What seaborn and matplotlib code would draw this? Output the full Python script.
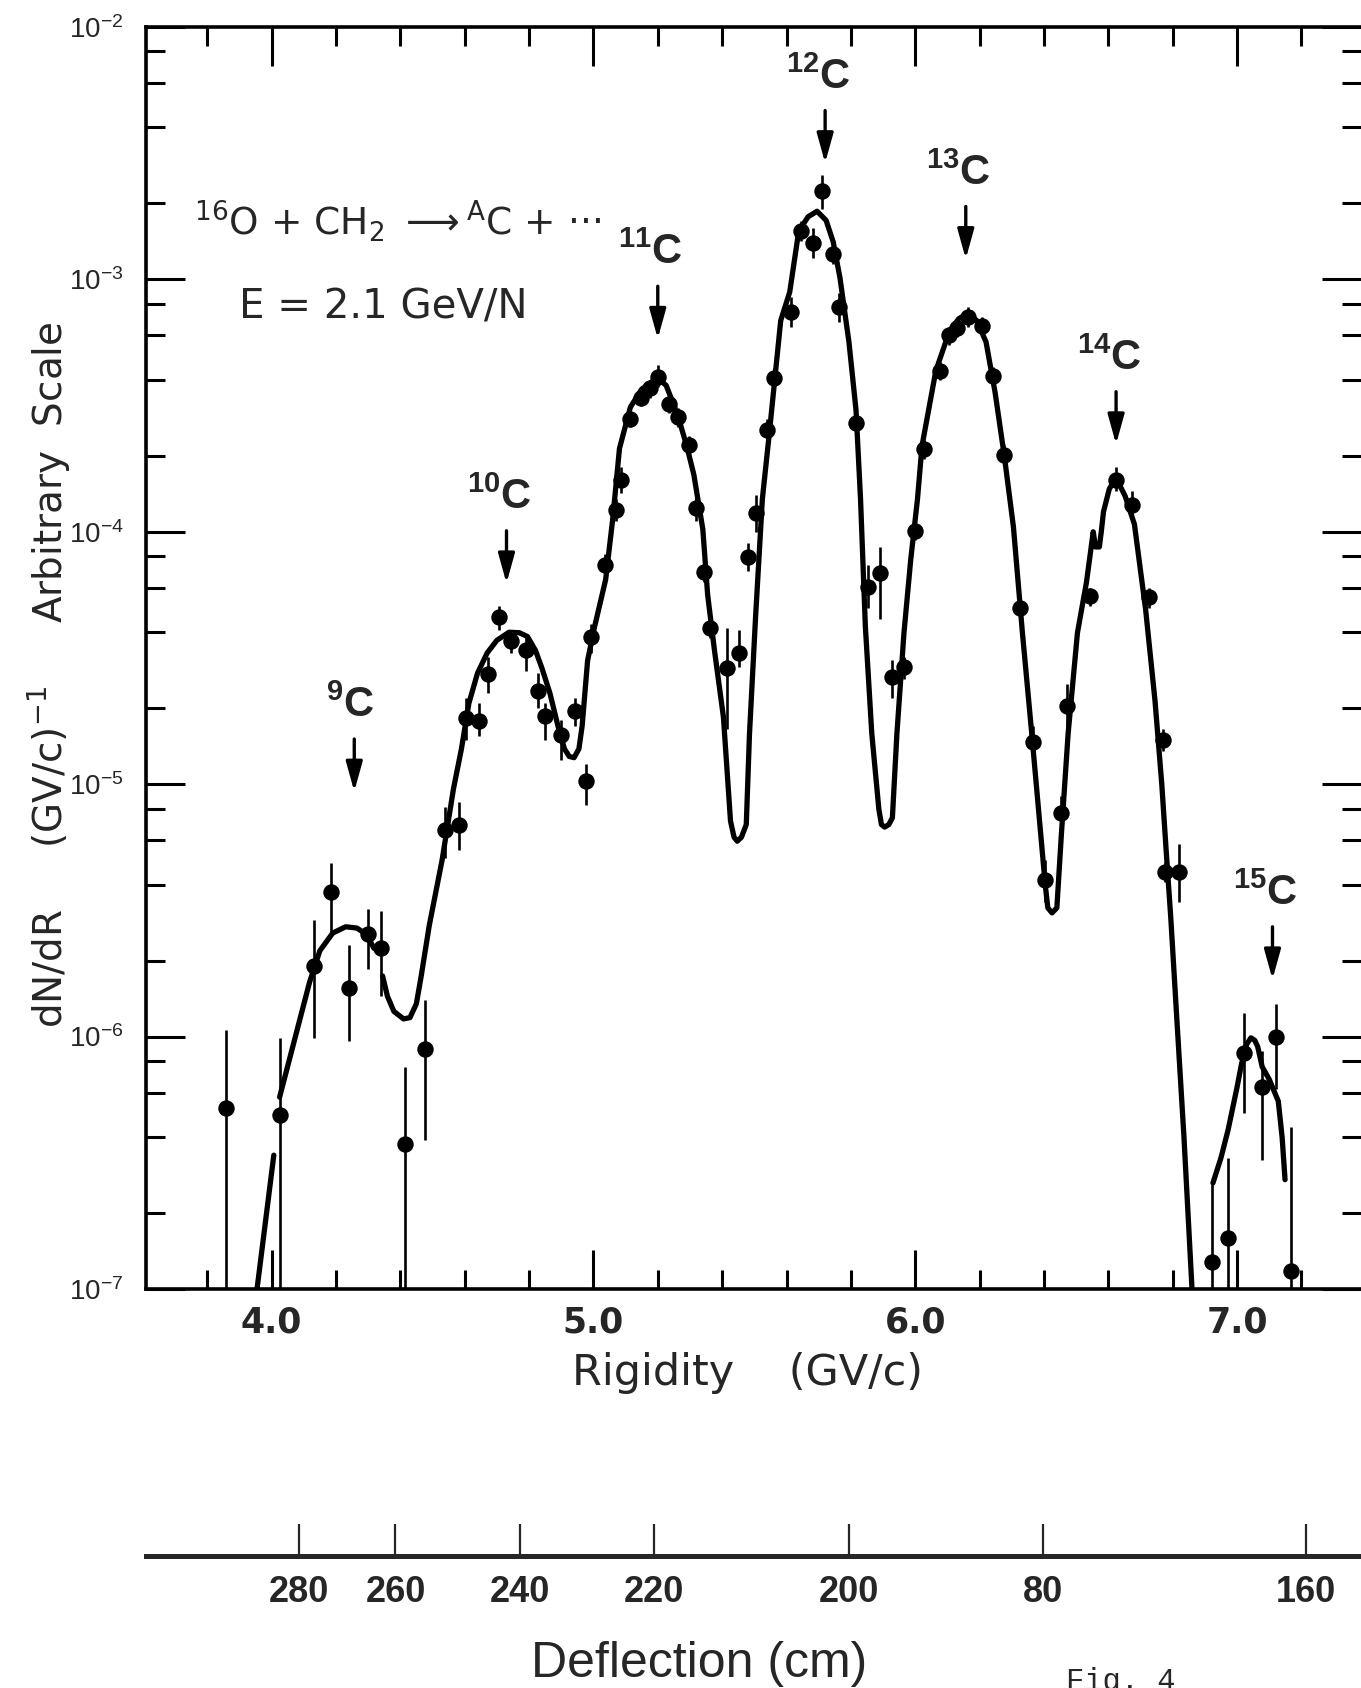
#!/usr/bin/env python3
"""Carbon isotope rigidity spectrum, 16O + CH2 at 2.1 GeV/N (log scale)."""

import matplotlib
matplotlib.use("Agg")
import matplotlib.pyplot as plt
from matplotlib.ticker import LogLocator, MultipleLocator, NullFormatter, FormatStrFormatter
import numpy as np
import pandas as pd
import seaborn as sns

# measured points: rigidity (GV/c), dN/dR, lower / upper end of the error bar
rigidity = [3.858, 4.025, 4.132, 4.185, 4.242, 4.300, 4.340, 4.415, 4.476, 4.539,
            4.583, 4.604, 4.643, 4.671, 4.708, 4.744, 4.790, 4.828, 4.851, 4.900,
            4.942, 4.976, 4.994, 5.035, 5.071, 5.087, 5.115, 5.147, 5.177, 5.200,
            5.236, 5.262, 5.298, 5.319, 5.343, 5.362, 5.414, 5.451, 5.479, 5.504,
            5.539, 5.560, 5.613, 5.645, 5.681, 5.709, 5.745, 5.763, 5.816, 5.854,
            5.891, 5.929, 5.965, 6.000, 6.028, 6.078, 6.106, 6.130, 6.163, 6.206,
            6.241, 6.277, 6.326, 6.365, 6.404, 6.454, 6.472, 6.543, 6.624, 6.674,
            6.726, 6.769, 6.777, 6.820, 6.922, 6.972, 7.023, 7.078, 7.120, 7.166]
dndr = [5.2e-7, 4.9e-7, 1.9e-6, 3.73e-6, 1.56e-6, 2.55e-6, 2.25e-6, 3.76e-7, 8.9e-7, 6.6e-6,
        6.9e-6, 1.83e-5, 1.78e-5, 2.73e-5, 4.6e-5, 3.7e-5, 3.4e-5, 2.34e-5, 1.86e-5, 1.57e-5,
        1.95e-5, 1.03e-5, 3.82e-5, 7.4e-5, 1.22e-4, 1.6e-4, 2.8e-4, 3.4e-4, 3.7e-4, 4.1e-4,
        3.2e-4, 2.85e-4, 2.2e-4, 1.24e-4, 6.9e-5, 4.15e-5, 2.88e-5, 3.3e-5, 7.98e-5, 1.19e-4,
        2.54e-4, 4.07e-4, 7.45e-4, 1.55e-3, 1.39e-3, 2.23e-3, 1.26e-3, 7.8e-4, 2.71e-4, 6.05e-5,
        6.84e-5, 2.65e-5, 2.92e-5, 1.01e-4, 2.12e-4, 4.35e-4, 6.0e-4, 6.4e-4, 7.1e-4, 6.55e-4,
        4.14e-4, 2.02e-4, 4.99e-5, 1.47e-5, 4.18e-6, 7.7e-6, 2.04e-5, 5.56e-5, 1.61e-4, 1.28e-4,
        5.5e-5, 1.5e-5, 4.49e-6, 4.49e-6, 1.28e-7, 1.59e-7, 8.6e-7, 6.3e-7, 1.0e-6, 1.18e-7]
err_lo = [1e-8, 1e-8, 9.9e-7, 2.6e-6, 9.6e-7, 1.85e-6, 1.45e-6, 1e-8, 3.9e-7, 5.1e-6,
          5.5e-6, 1.5e-5, 1.55e-5, 2.3e-5, 4.1e-5, 3.3e-5, 2.8e-5, 2.0e-5, 1.5e-5, 1.25e-5,
          1.7e-5, 8.3e-6, 3.3e-5, 6.6e-5, 1.1e-4, 1.42e-4, 2.6e-4, 3.15e-4, 3.4e-4, 3.75e-4,
          2.95e-4, 2.6e-4, 2.0e-4, 1.1e-4, 6.3e-5, 3.8e-5, 1.66e-5, 2.9e-5, 7.0e-5, 1.0e-4,
          2.3e-4, 3.7e-4, 6.5e-4, 1.42e-3, 1.22e-3, 1.9e-3, 1.15e-3, 6.8e-4, 2.4e-4, 5.0e-5,
          4.5e-5, 2.2e-5, 2.6e-5, 9.3e-5, 1.95e-4, 4.0e-4, 5.5e-4, 5.9e-4, 6.5e-4, 6.0e-4,
          3.8e-4, 1.85e-4, 4.6e-5, 1.3e-5, 3.4e-6, 6.5e-6, 1.65e-5, 5.1e-5, 1.45e-4, 1.15e-4,
          5.0e-5, 1.35e-5, 4.1e-6, 3.4e-6, 1e-8, 1e-8, 5.0e-7, 3.25e-7, 6.2e-7, 1e-8]
err_hi = [1.06e-6, 9.9e-7, 2.9e-6, 4.85e-6, 2.3e-6, 3.2e-6, 3.15e-6, 7.6e-7, 1.39e-6, 8.1e-6,
          8.5e-6, 2.2e-5, 2.1e-5, 3.2e-5, 5.1e-5, 4.0e-5, 3.9e-5, 2.75e-5, 2.1e-5, 1.8e-5,
          2.2e-5, 1.2e-5, 4.3e-5, 8.2e-5, 1.35e-4, 1.8e-4, 3.0e-4, 3.65e-4, 4.0e-4, 4.6e-4,
          3.45e-4, 3.1e-4, 2.4e-4, 1.38e-4, 7.6e-5, 4.5e-5, 4.15e-5, 4.1e-5, 9.0e-5, 1.4e-4,
          2.8e-4, 4.45e-4, 8.5e-4, 1.7e-3, 1.6e-3, 2.6e-3, 1.38e-3, 8.8e-4, 3.1e-4, 7.4e-5,
          8.7e-5, 3.1e-5, 3.2e-5, 1.1e-4, 2.3e-4, 4.7e-4, 6.5e-4, 6.9e-4, 7.8e-4, 7.1e-4,
          4.5e-4, 2.2e-4, 5.4e-5, 1.7e-5, 5.0e-6, 9.0e-6, 2.5e-5, 6.0e-5, 1.8e-4, 1.45e-4,
          6.0e-5, 1.65e-5, 4.9e-6, 5.8e-6, 2.6e-7, 3.3e-7, 1.24e-6, 8.8e-7, 1.35e-6, 4.4e-7]

# hand-drawn fit curve, one list pair per drawn stroke
# (rigidity, log10 dN/dR)
stroke_a_rig = [3.950, 4.007]
stroke_a_log = [-7.05, -6.47]
stroke_b_rig = [4.025, 4.118, 4.150, 4.190, 4.230, 4.265, 4.295, 4.318]
stroke_b_log = [-6.24, -5.785, -5.66, -5.59, -5.565, -5.57, -5.595, -5.65]
stroke_c_rig = [4.345, 4.360, 4.380, 4.410, 4.430, 4.450, 4.465, 4.490, 4.530, 4.565,
                4.590, 4.613, 4.640, 4.670, 4.700, 4.738, 4.770, 4.795, 4.820, 4.840,
                4.865, 4.890, 4.910, 4.925, 4.940, 4.955, 4.965, 4.982, 5.003, 5.038,
                5.060, 5.081, 5.115, 5.150, 5.199, 5.226, 5.261, 5.290, 5.312, 5.340,
                5.355, 5.376, 5.404, 5.426, 5.437, 5.447, 5.460, 5.475, 5.485, 5.504,
                5.525, 5.546, 5.582, 5.610, 5.638, 5.667, 5.695, 5.723, 5.745, 5.766,
                5.794, 5.816, 5.830, 5.845, 5.865, 5.887, 5.895, 5.905, 5.918, 5.929,
                5.943, 5.965, 5.986, 6.007, 6.021, 6.064, 6.106, 6.135, 6.163, 6.191,
                6.220, 6.248, 6.277, 6.305, 6.333, 6.362, 6.390, 6.404, 6.412, 6.425,
                6.440, 6.454, 6.475, 6.504, 6.532, 6.553, 6.560, 6.572, 6.578, 6.585,
                6.603, 6.624, 6.652, 6.681, 6.716, 6.745, 6.766, 6.780, 6.794, 6.809,
                6.835, 6.862]
stroke_c_log = [-5.76, -5.84, -5.90, -5.93, -5.925, -5.87, -5.76, -5.56, -5.30, -5.02,
                -4.86, -4.68, -4.56, -4.48, -4.43, -4.398, -4.40, -4.415, -4.47, -4.54,
                -4.64, -4.77, -4.86, -4.89, -4.895, -4.86, -4.77, -4.51, -4.38, -4.19,
                -3.95, -3.67, -3.506, -3.435, -3.39, -3.42, -3.534, -3.66, -3.773, -3.99,
                -4.25, -4.468, -4.734, -5.146, -5.21, -5.226, -5.21, -5.16, -4.80, -4.335,
                -3.87, -3.617, -3.163, -3.05, -2.809, -2.752, -2.73, -2.766, -2.851, -2.993,
                -3.248, -3.518, -3.87, -4.375, -4.80, -5.10, -5.16, -5.17, -5.16, -5.133,
                -4.80, -4.40, -4.11, -3.87, -3.66, -3.362, -3.206, -3.156, -3.135, -3.163,
                -3.248, -3.447, -3.702, -3.98, -4.40, -4.80, -5.20, -5.40, -5.49, -5.51,
                -5.49, -5.20, -4.80, -4.40, -4.20, -4.00, -4.06, -4.06, -4.00, -3.92,
                -3.83, -3.787, -3.858, -3.97, -4.31, -4.67, -5.00, -5.27, -5.53, -5.85,
                -6.40, -7.05]
stroke_d_rig = [6.925, 6.950, 6.972, 7.000, 7.014, 7.030, 7.043, 7.055, 7.064, 7.078,
                7.100, 7.128, 7.140, 7.149]
stroke_d_log = [-6.58, -6.48, -6.37, -6.20, -6.107, -6.03, -6.005, -6.015, -6.04, -6.12,
                -6.17, -6.256, -6.40, -6.567]

# isotope markers: mass number, rigidity of the arrow, height of the label
iso_mass = [9, 10, 11, 12, 13, 14, 15]
iso_rig = [4.257, 4.730, 5.200, 5.720, 6.157, 6.624, 7.110]
iso_label_log = [-4.69, -3.865, -2.896, -2.20, -2.58, -3.314, -5.434]

# deflection scale (label as printed, rigidity where its tick sits)
defl_labels = ["280", "260", "240", "220", "200", "80", "160"]
defl_rig = [4.084, 4.385, 4.773, 5.189, 5.795, 6.398, 7.214]

sns.set_theme(style="ticks")
plt.rcParams["font.family"] = ["DejaVu Sans"]
plt.rcParams["mathtext.default"] = "regular"
plt.rcParams["axes.unicode_minus"] = False

fig = plt.figure(figsize=(13.61, 16.88), dpi=100)
ax = fig.add_axes([0.1073, 0.2364, 0.8927, 0.7476])
ax.set_yscale("log")
ax.set_xlim(3.61, 7.385)
ax.set_ylim(1e-7, 1e-2)

strokes = [(stroke_a_rig, stroke_a_log), (stroke_b_rig, stroke_b_log),
           (stroke_c_rig, stroke_c_log), (stroke_d_rig, stroke_d_log)]
curve = pd.concat(
    [pd.DataFrame({"seg": i, "R": r, "y": 10 ** np.array(lg)}) for i, (r, lg) in enumerate(strokes)],
    ignore_index=True,
)
sns.lineplot(data=curve, x="R", y="y", units="seg", estimator=None, sort=False,
             color="black", lw=3.8, legend=False, ax=ax)

ax.vlines(rigidity, err_lo, err_hi, color="black", lw=1.9)
sns.scatterplot(x=rigidity, y=dndr, color="black", s=140, linewidth=0, ax=ax, zorder=5)

iso_font = ["Liberation Sans", "DejaVu Sans"]
for m, r, lg in zip(iso_mass, iso_rig, iso_label_log):
    off = 0.012 if m < 10 else 0.022
    ax.text(r - off, 10 ** lg, f"$^{{{m}}}$C", ha="center", va="center",
            fontsize=30, fontweight="bold", family=iso_font)
    ax.annotate("", xy=(r, 10 ** (lg - 0.35)), xytext=(r, 10 ** (lg - 0.12)),
                arrowprops=dict(arrowstyle="-|>,head_length=0.9,head_width=0.25",
                                lw=2.4, color="black", mutation_scale=20))

ax.text(0.0395, 0.846, "$^{16}$O + CH$_2$ $\\longrightarrow$$^{A}$C + \u00b7\u00b7\u00b7",
        transform=ax.transAxes, ha="left", va="center", fontsize=27)
ax.text(0.0765, 0.778, "E = 2.1 GeV/N", transform=ax.transAxes,
        ha="left", va="center", fontsize=29)

# axes cosmetics
for side in ["left", "top", "bottom"]:
    ax.spines[side].set_linewidth(2.6)
    ax.spines[side].set_color("black")
ax.spines["right"].set_visible(False)

ax.xaxis.set_major_locator(MultipleLocator(1.0))
ax.xaxis.set_minor_locator(MultipleLocator(0.2))
ax.xaxis.set_major_formatter(FormatStrFormatter("%.1f"))
ax.yaxis.set_major_locator(LogLocator(base=10))
ax.yaxis.set_minor_locator(LogLocator(base=10, subs=[2, 4, 6, 8]))
ax.yaxis.set_minor_formatter(NullFormatter())
ax.tick_params(which="both", direction="in", top=True, right=True, color="black")
ax.tick_params(which="major", length=28, width=2.2)
ax.tick_params(which="minor", length=14, width=2.2)
ax.tick_params(axis="x", which="major", pad=12, labelsize=25)
ax.tick_params(axis="y", which="major", pad=16, labelsize=20)
for lab in ax.get_xticklabels():
    lab.set_fontweight("bold")
for lab in ax.get_yticklabels():
    lab.set_family(["Liberation Sans", "DejaVu Sans"])
ax.set_xlabel("")
ax.set_ylabel("")

ax.text(0.495, -0.0666, "Rigidity    (GV/c)", transform=ax.transAxes,
        ha="center", va="center", fontsize=31)
ax.text(-0.0800, 0.4865, "dN/dR     (GV/c)$^{-1}$     Arbitrary  Scale", transform=ax.transAxes,
        ha="center", va="center", rotation=90, fontsize=28)

# deflection scale underneath
ax2 = fig.add_axes([0.1073, 0.0782, 0.8927, 0.0001])
ax2.set_xlim(ax.get_xlim())
for side in ["left", "top", "right"]:
    ax2.spines[side].set_visible(False)
ax2.spines["bottom"].set_linewidth(3.6)
ax2.set_yticks([])
ax2.set_xticks(defl_rig)
ax2.set_xticklabels(defl_labels)
ax2.tick_params(axis="x", direction="in", length=23, width=1.6, pad=14, labelsize=26)
for lab in ax2.get_xticklabels():
    lab.set_family(["Liberation Sans", "DejaVu Sans"])
    lab.set_fontweight("bold")
ax2.patch.set_visible(False)

fig.text(0.514, 0.0142, "Deflection (cm)", ha="center", va="center", fontsize=36,
         family=["Liberation Sans", "DejaVu Sans"])
fig.text(0.783, 0.0124, "Fig. 4", ha="left", va="top", fontsize=22,
         family=["Liberation Mono", "DejaVu Sans Mono"])

fig.savefig("out.png", dpi=100)
